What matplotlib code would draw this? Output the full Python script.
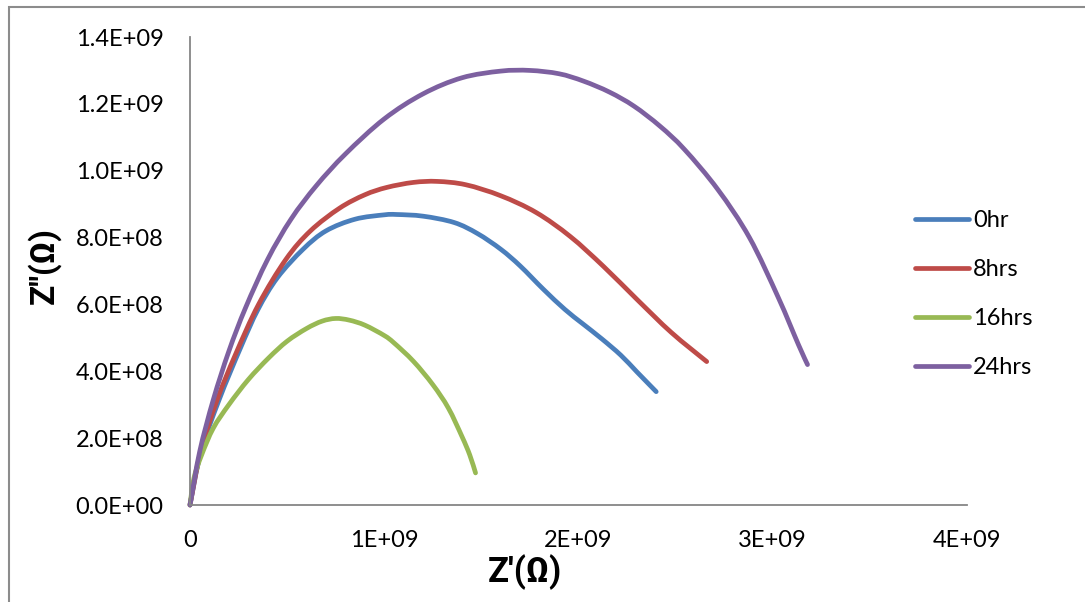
import matplotlib
matplotlib.use("Agg")
import matplotlib.pyplot as plt
import numpy as np
from matplotlib.patches import Rectangle, PathPatch
from matplotlib.path import Path
from matplotlib.lines import Line2D

plt.rcParams['font.family'] = ['Lato', 'DejaVu Sans']

# Data (Z' in ohm, Z'' in ohm)
x_0hr = [0, 0.057e9, 0.15e9, 0.26e9, 0.35e9, 0.45e9, 0.582e9, 0.70e9, 0.85e9, 1.0e9, 1.065e9, 1.2e9,
         1.36e9, 1.48e9, 1.60e9, 1.70e9, 1.818e9, 1.93e9, 2.02e9, 2.12e9, 2.218e9, 2.301e9, 2.40e9]
y_0hr = [0, 0.16e9, 0.315e9, 0.47e9, 0.585e9, 0.68e9, 0.765e9, 0.82e9, 0.855e9, 0.868e9, 0.869e9, 0.864e9,
         0.845e9, 0.812e9, 0.765e9, 0.715e9, 0.646e9, 0.585e9, 0.543e9, 0.497e9, 0.448e9, 0.398e9, 0.339e9]

x_8hrs = [0, 0.055e9, 0.14e9, 0.234e9, 0.353e9, 0.494e9, 0.62e9, 0.77e9, 0.90e9, 1.013e9, 1.15e9,
          1.273e9, 1.42e9, 1.60e9, 1.782e9, 1.958e9, 2.13e9, 2.301e9, 2.478e9, 2.660e9]
y_8hrs = [0, 0.16e9, 0.315e9, 0.45e9, 0.60e9, 0.735e9, 0.82e9, 0.888e9, 0.928e9, 0.95e9, 0.965e9,
          0.968e9, 0.958e9, 0.925e9, 0.875e9, 0.803e9, 0.713e9, 0.615e9, 0.516e9, 0.429e9]

x_16hrs = [0, 0.02e9, 0.06e9, 0.12e9, 0.2e9, 0.3e9, 0.405e9, 0.5e9, 0.6e9, 0.68e9, 0.75e9, 0.82e9,
           0.9e9, 1.0e9, 1.05e9, 1.15e9, 1.25e9, 1.33e9, 1.40e9, 1.44e9, 1.47e9]
y_16hrs = [0, 0.08e9, 0.15e9, 0.23e9, 0.30e9, 0.375e9, 0.44e9, 0.49e9, 0.528e9, 0.55e9, 0.558e9, 0.553e9,
           0.538e9, 0.507e9, 0.485e9, 0.43e9, 0.36e9, 0.29e9, 0.205e9, 0.15e9, 0.096e9]

x_24hrs = [0, 0.05e9, 0.12e9, 0.2e9, 0.286e9, 0.40e9, 0.52e9, 0.65e9, 0.80e9, 1.0e9, 1.2e9, 1.4e9,
           1.6e9, 1.75e9, 1.9e9, 2.026e9, 2.16e9, 2.286e9, 2.42e9, 2.545e9, 2.717e9, 2.88e9, 3.029e9,
           3.132e9, 3.179e9]
y_24hrs = [0, 0.16e9, 0.315e9, 0.46e9, 0.59e9, 0.735e9, 0.855e9, 0.955e9, 1.05e9, 1.155e9, 1.23e9, 1.278e9,
           1.298e9, 1.30e9, 1.29e9, 1.268e9, 1.235e9, 1.193e9, 1.133e9, 1.064e9, 0.944e9, 0.80e9, 0.62e9,
           0.48e9, 0.42e9]

series_labels = ['0hr', '8hrs', '16hrs', '24hrs']
series_colors = ['#4A7EBB', '#BE4B48', '#98B954', '#7D60A0']

x_ticks = [0, 1e9, 2e9, 3e9, 4e9]
x_ticklabels = ['0', '1E+09', '2E+09', '3E+09', '4E+09']
y_ticks = [0, 2e8, 4e8, 6e8, 8e8, 1e9, 1.2e9, 1.4e9]
y_ticklabels = ['0.0E+00', '2.0E+08', '4.0E+08', '6.0E+08', '8.0E+08', '1.0E+09', '1.2E+09', '1.4E+09']


def smooth_path(xv, yv):
    """Excel-style smoothed line: Catmull-Rom segments drawn as cubic Bezier curves."""
    p = np.column_stack([xv, yv]).astype(float)
    n = len(p)
    verts = [p[0]]
    codes = [Path.MOVETO]
    for i in range(n - 1):
        p0 = p[i - 1] if i > 0 else p[i]
        p1, p2 = p[i], p[i + 1]
        p3 = p[i + 2] if i + 2 < n else p[i + 1]
        c1 = p1 + (p2 - p0) / 6.0
        c2 = p2 - (p3 - p1) / 6.0
        verts += [c1, c2, p2]
        codes += [Path.CURVE4] * 3
    return Path(verts, codes)


fig = plt.figure(figsize=(10.85, 6.02), dpi=100)
ax = fig.add_axes([190/1085, (602-505)/602, (967-190)/1085, (505-37)/602])

xs = [x_0hr, x_8hrs, x_16hrs, x_24hrs]
ys = [y_0hr, y_8hrs, y_16hrs, y_24hrs]
handles = []
for xv, yv, lab, col in zip(xs, ys, series_labels, series_colors):
    patch = PathPatch(smooth_path(xv, yv), fill=False, edgecolor=col, lw=3.4,
                      capstyle='round', joinstyle='round', transform=ax.transData)
    patch.set_clip_on(False)
    ax.add_patch(patch)
    handles.append(Line2D([], [], color=col, lw=3.4, solid_capstyle='round', label=lab))

ax.set_xlim(0, 4e9)
ax.set_ylim(0, 1.4e9)
ax.set_xticks(x_ticks)
ax.set_xticklabels(x_ticklabels)
ax.set_yticks(y_ticks)
ax.set_yticklabels(y_ticklabels)
ax.tick_params(axis='both', length=0, labelsize=17, colors='black')
ax.tick_params(axis='y', pad=19)
ax.tick_params(axis='x', pad=18)
for s in ['top', 'right']:
    ax.spines[s].set_visible(False)
for s in ['left', 'bottom']:
    ax.spines[s].set_color('#868686')
    ax.spines[s].set_linewidth(1.3)

fig.text(525/1085, 1 - 572/602, "Z'(Ω)", ha='center', va='center', fontsize=25,
         fontweight='bold', family=['Roboto', 'DejaVu Sans'])
fig.text(44/1085, 1 - 265/602, "Z''(Ω)", ha='center', va='center', fontsize=24,
         fontweight='bold', rotation=90, family=['Roboto', 'DejaVu Sans'])

leg = ax.legend(handles=handles, loc='center left', bbox_to_anchor=(915/1085, 1 - 294/602),
                bbox_transform=fig.transFigure, frameon=False, fontsize=17, handlelength=2.3,
                handletextpad=0.15, labelspacing=1.18, borderpad=0, borderaxespad=0)

fig.patches.append(Rectangle((9/1085, -0.1), 1.2, 1.1 - 7/602, transform=fig.transFigure,
                             fill=False, edgecolor='#8c8c8c', lw=1.5))

fig.savefig('out.png', dpi=100)
